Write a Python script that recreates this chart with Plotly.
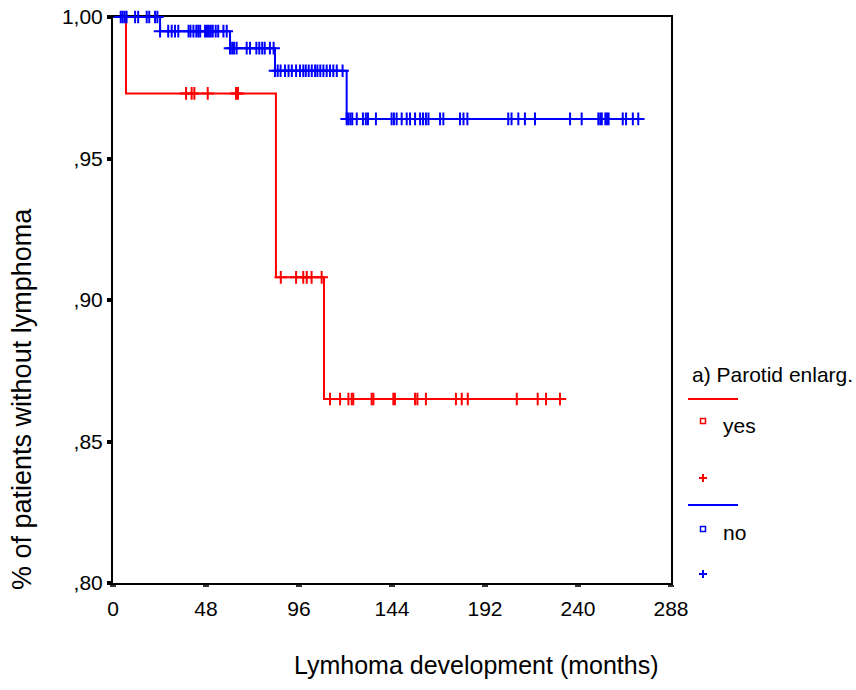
import numpy as np
import plotly.graph_objects as go

# ---- data ----
# Kaplan-Meier step points: time (months), survival
yes_times = [0, 6.7, 84.1, 108.9, 232.8]
yes_surv = [1.0, 0.973, 0.908, 0.865, 0.865]
yes_censored = [37.7, 40.6, 42.0, 48.9, 63.5, 64.5,
                86.6, 94.5, 98.2, 100.0, 102.5, 107.7,
                112.0, 117.2, 121.5, 123.2, 124.0, 133.5, 134.4, 144.7, 145.5,
                155.9, 157.1, 161.5, 177.0, 180.0, 183.1, 208.4, 219.2, 223.5, 230.7]

no_times = [0, 24.3, 60.4, 83.6, 120.6, 271.1]
no_surv = [1.0, 0.995, 0.989, 0.981, 0.964, 0.964]
no_censored = [4.0, 5.0, 6.0, 7.0, 11.4, 13.0, 17.4, 18.7, 21.7, 22.9,
               24.3, 28.5, 30.3, 32.0, 33.7, 39.0, 40.0, 41.5, 43.0, 44.0, 45.0,
               47.5, 48.5, 49.5, 50.5, 51.5, 53.0, 54.3, 57.0, 58.7,
               60.4, 61.5, 62.5, 63.8, 69.0, 70.7, 74.0, 75.5, 77.0, 78.3, 81.0, 82.9,
               83.6, 85.0, 86.5, 88.8, 90.6, 92.3, 94.5, 96.5, 98.2, 99.5, 101.0, 102.6,
               104.3, 105.5, 107.0, 108.6, 110.3, 112.0, 113.7, 115.5, 118.5, 120.6,
               121.4, 122.5, 123.5, 125.8, 129.0, 130.5, 131.6, 135.7, 143.8, 145.0, 146.4,
               149.0, 151.6, 153.3, 155.9, 158.5, 160.0, 161.5, 162.8, 168.8, 170.5,
               179.1, 180.9, 182.9, 204.0, 205.7, 209.2, 212.6, 217.8, 235.9, 241.9,
               250.5, 251.5, 252.3, 254.1, 255.0, 255.8, 263.1, 264.8, 268.3, 271.1]

x_ticks = [0, 48, 96, 144, 192, 240, 288]
y_ticks = [0.80, 0.85, 0.90, 0.95, 1.00]
y_ticktext = [",80", ",85", ",90", ",95", "1,00"]

group_labels = ["yes", "no"]
colors = ["#FF0000", "#0000FF"]

FONT = "Liberation Sans, Arial, sans-serif"


def step_value(times, surv, t):
    idx = np.searchsorted(np.array(times), t, side="right") - 1
    return [surv[i] for i in idx]


fig = go.Figure()
for times, surv, cens, col, name in [
    (yes_times, yes_surv, yes_censored, colors[0], group_labels[0]),
    (no_times, no_surv, no_censored, colors[1], group_labels[1]),
]:
    fig.add_trace(go.Scatter(x=times, y=surv, mode="lines", line=dict(color=col, width=2, shape="hv"),
                             name=name, showlegend=False, cliponaxis=False))
    fig.add_trace(go.Scatter(x=cens, y=step_value(times, surv, cens), mode="markers",
                             marker=dict(symbol="cross-thin", size=9, line=dict(color=col, width=2)),
                             showlegend=False, cliponaxis=False))

# plot area in pixels: left 113, right 671, top 17, bottom 583
L, R, T, B = 113, 671, 17, 583
W, H = R - L, B - T


def px(x):
    return (x - L) / W


def py(y):
    return (B - y) / H


fig.update_layout(
    width=856, height=690,
    margin=dict(l=L, r=856 - R, t=T, b=690 - B, autoexpand=False),
    paper_bgcolor="white", plot_bgcolor="white",
    font=dict(family=FONT, color="black"),
    xaxis=dict(range=[0, 288], tickvals=x_ticks, ticktext=[str(v) for v in x_ticks],
               showgrid=False, zeroline=False, showline=True, mirror=True, automargin=False,
               linecolor="black", linewidth=2, ticks="outside", ticklen=2, tickwidth=6,
               tickcolor="#333333", tickfont=dict(size=21, family=FONT), layer="below traces",
               ticklabelstandoff=4),
    yaxis=dict(range=[0.80, 1.00], tickvals=y_ticks, ticktext=y_ticktext,
               showgrid=False, zeroline=False, showline=True, mirror=True, automargin=False,
               linecolor="black", linewidth=2, ticks="outside", ticklen=4, tickwidth=4,
               tickcolor="black", tickfont=dict(size=21, family=FONT), layer="below traces",
               ticklabelstandoff=0),
)

# axis titles
fig.add_annotation(x=px(476), y=py(665), xref="paper", yref="paper", text="Lymhoma development (months)",
                   showarrow=False, font=dict(size=25, family=FONT), xanchor="center", yanchor="middle")
fig.add_annotation(x=px(22), y=py(399), xref="paper", yref="paper", text="% of patients without lymphoma",
                   showarrow=False, textangle=-90, font=dict(size=27, family=FONT),
                   xanchor="center", yanchor="middle")

# legend (drawn manually)
fig.add_annotation(x=px(690), y=py(374), xref="paper", yref="paper", text="a) Parotid enlarg.",
                   showarrow=False, font=dict(size=21, family=FONT), xanchor="left", yanchor="middle")
leg_rows = [(399, 421, 425, 478), (505, 529, 532, 574)]
for (ly, sy, ty, cy), col, lab in zip(leg_rows, colors, group_labels):
    fig.add_shape(type="line", xref="paper", yref="paper", x0=px(688), x1=px(738), y0=py(ly), y1=py(ly),
                  line=dict(color=col, width=2))
    fig.add_shape(type="rect", xref="paper", yref="paper", xsizemode="pixel", ysizemode="pixel",
                  xanchor=px(703), yanchor=py(sy), x0=-2.5, x1=2.5, y0=-2.5, y1=2.5,
                  line=dict(color=col, width=1.5), fillcolor="white")
    fig.add_annotation(x=px(721), y=py(ty), xref="paper", yref="paper", text=lab, showarrow=False,
                       font=dict(size=21, family=FONT), xanchor="left", yanchor="middle")
    fig.add_shape(type="line", xref="paper", yref="paper", xsizemode="pixel", ysizemode="pixel",
                  xanchor=px(703), yanchor=py(cy), x0=-4, x1=4, y0=0, y1=0, line=dict(color=col, width=2))
    fig.add_shape(type="line", xref="paper", yref="paper", xsizemode="pixel", ysizemode="pixel",
                  xanchor=px(703), yanchor=py(cy), x0=0, x1=0, y0=-4, y1=4, line=dict(color=col, width=2))

fig.write_html("out.html")
